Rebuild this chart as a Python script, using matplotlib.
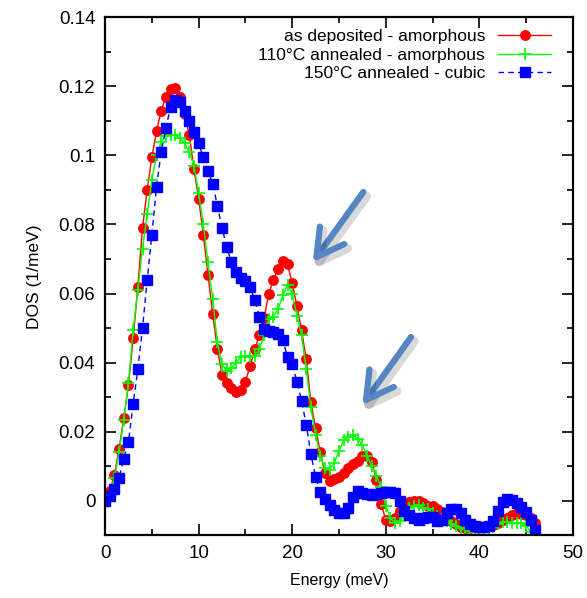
import matplotlib
matplotlib.use("Agg")
import matplotlib.pyplot as plt
import matplotlib.patheffects as pe
from matplotlib.ticker import MultipleLocator, FuncFormatter

plt.rcParams['font.family'] = ['Liberation Sans', 'DejaVu Sans']

# --- DATA ---
energy = [0, 0.5, 1, 1.5, 2, 2.5, 3, 3.5, 4, 4.5, 5, 5.5, 6, 6.5, 7, 7.5, 8, 8.5, 9, 9.5,
          10, 10.5, 11, 11.5, 12, 12.5, 13, 13.5, 14, 14.5, 15, 15.5, 16, 16.5, 17, 17.5,
          18, 18.5, 19, 19.5, 20, 20.5, 21, 21.5, 22, 22.5, 23, 23.5, 24, 24.5, 25, 25.5,
          26, 26.5, 27, 27.5, 28, 28.5, 29, 29.5, 30, 30.5, 31, 31.5, 32, 32.5, 33, 33.5,
          34, 34.5, 35, 35.5, 36, 36.5, 37, 37.5, 38, 38.5, 39, 39.5, 40, 40.5, 41, 41.5,
          42, 42.5, 43, 43.5, 44, 44.5, 45, 45.5, 46]

dos_deposited = [0.0, 0.0028, 0.0075, 0.015, 0.024, 0.0335, 0.047, 0.062, 0.079, 0.090,
                 0.0995, 0.107, 0.113, 0.117, 0.1192, 0.1195, 0.117, 0.112, 0.106, 0.096,
                 0.0875, 0.077, 0.0655, 0.054, 0.044, 0.0365, 0.034, 0.0325, 0.0315, 0.032,
                 0.0345, 0.039, 0.0438, 0.048, 0.053, 0.060, 0.064, 0.0672, 0.0695, 0.0685,
                 0.063, 0.0565, 0.0494, 0.041, 0.0285, 0.021, 0.014, 0.008, 0.0058, 0.0062,
                 0.007, 0.008, 0.0095, 0.0105, 0.0115, 0.0128, 0.0128, 0.0112, 0.006, -0.001,
                 -0.0055, -0.006, -0.005, -0.003, -0.0015, -0.0005, 0.0, -0.0002, -0.0008, -0.0015,
                 -0.0015, -0.0025, -0.0032, -0.0047, -0.006, -0.0068, -0.0075, -0.0078, -0.0078, -0.0077,
                 -0.0076, -0.0075, -0.0073, -0.0071, -0.0065, -0.0056, -0.005, -0.0042, -0.0037, -0.0038,
                 -0.0042, -0.005, -0.0065]

dos_110C = [0.0, 0.0025, 0.0065, 0.014, 0.0235, 0.034, 0.0495, 0.061, 0.073, 0.083,
            0.093, 0.100, 0.104, 0.1055, 0.106, 0.106, 0.105, 0.1035, 0.101, 0.097,
            0.089, 0.080, 0.069, 0.0585, 0.046, 0.0395, 0.0375, 0.0385, 0.040, 0.0415,
            0.042, 0.0415, 0.042, 0.044, 0.048, 0.0525, 0.0533, 0.0555, 0.0595, 0.0625,
            0.060, 0.0535, 0.048, 0.038, 0.027, 0.019, 0.013, 0.0095, 0.009, 0.011,
            0.0145, 0.0175, 0.0185, 0.019, 0.018, 0.016, 0.013, 0.010, 0.0072, 0.004,
            -0.0015, -0.005, -0.0065, -0.006, -0.004, -0.002, -0.0015, -0.0013, -0.002, -0.0025,
            -0.0035, -0.0045, -0.0052, -0.006, -0.0068, -0.0073, -0.0078, -0.0083, -0.0088, -0.009,
            -0.009, -0.009, -0.0085, -0.0076, -0.0068, -0.0062, -0.0063, -0.0066, -0.0066, -0.0066,
            -0.0072, -0.009, -0.0125]

dos_150C = [0.0, 0.0015, 0.0035, 0.0067, 0.012, 0.017, 0.028, 0.038, 0.050, 0.064,
            0.077, 0.091, 0.101, 0.108, 0.114, 0.1162, 0.1155, 0.1128, 0.110, 0.1067,
            0.1035, 0.0995, 0.0955, 0.0918, 0.0855, 0.079, 0.0736, 0.069, 0.0663, 0.0646,
            0.0637, 0.062, 0.058, 0.0533, 0.0498, 0.0492, 0.0488, 0.0482, 0.0465, 0.0415,
            0.0395, 0.0345, 0.029, 0.022, 0.0135, 0.0068, 0.0025, 0.0005, -0.0012, -0.0028,
            -0.0036, -0.0035, -0.0022, 0.0012, 0.0027, 0.0022, 0.0018, 0.0017, 0.0019, 0.0022,
            0.0025, 0.0026, 0.0022, 0.0, -0.003, -0.0042, -0.005, -0.0056, -0.005, -0.0047,
            -0.0048, -0.0058, -0.0055, -0.0037, -0.0025, -0.0025, -0.0035, -0.0057, -0.0067, -0.0072,
            -0.0075, -0.0076, -0.0074, -0.006, -0.003, -0.0005, 0.0005, 0.0003, -0.0008, -0.0018,
            -0.0033, -0.0055, -0.0086]

labels = ["as deposited - amorphous", "110°C annealed - amorphous", "150°C annealed - cubic"]

# arrows pointing at the features: (tail, tip) in data units
arrows = [((27.6, 0.0894), (22.2, 0.0691)),
          ((32.7, 0.0474), (27.5, 0.0277))]

fig = plt.figure(figsize=(5.87, 5.98), dpi=100)
ax = fig.add_axes([0.179, 0.105, 0.797, 0.866])

ax.plot(energy, dos_deposited, color='#ff0000', lw=1, marker='o', ms=6.8,
        mec='#ff0000', label=labels[0])
ax.plot(energy, dos_110C, color='#00ff00', lw=1, marker='+', ms=8, mew=1.2,
        label=labels[1])
ax.plot(energy, dos_150C, color='#0000ff', lw=1, ls=(0, (4, 3)), marker='s', ms=7,
        label=labels[2])

for (tail, tip) in arrows:
    ax.annotate("", xy=tip, xytext=tail,
                arrowprops=dict(arrowstyle="->,head_length=0.8,head_width=0.45",
                                mutation_scale=24, color='#5585c2', lw=4.5,
                                shrinkA=0, shrinkB=0,
                                capstyle='round', joinstyle='round',
                                path_effects=[pe.SimpleLineShadow(offset=(2, -3), alpha=0.15,
                                                                  linewidth=7),
                                              pe.Normal()]))

ax.set_xlim(0, 50)
ax.set_ylim(-0.01, 0.14)
ax.xaxis.set_major_locator(MultipleLocator(10))
ax.xaxis.set_minor_locator(MultipleLocator(5))
ax.yaxis.set_major_locator(MultipleLocator(0.02))
ax.yaxis.set_minor_locator(MultipleLocator(0.01))
ax.yaxis.set_major_formatter(FuncFormatter(lambda v, p: f"{round(v, 4):g}"))
ax.tick_params(which='both', direction='in', top=True, right=True, labelsize=13.5, width=1.2)
ax.tick_params(which='major', length=8, pad=7)
ax.tick_params(which='minor', length=4.5)
for s in ax.spines.values():
    s.set_linewidth(1.6)

ax.set_xlabel("Energy (meV)", fontsize=11.5, labelpad=8)
ax.set_ylabel("DOS (1/meV)", fontsize=12.5, labelpad=12)

ax.legend(loc='upper right', bbox_to_anchor=(0.968, 0.991), frameon=False,
          markerfirst=False, fontsize=12.5, handlelength=3.05, labelspacing=0.2,
          borderaxespad=0, handletextpad=0.75)

fig.savefig("out.png", dpi=100)
